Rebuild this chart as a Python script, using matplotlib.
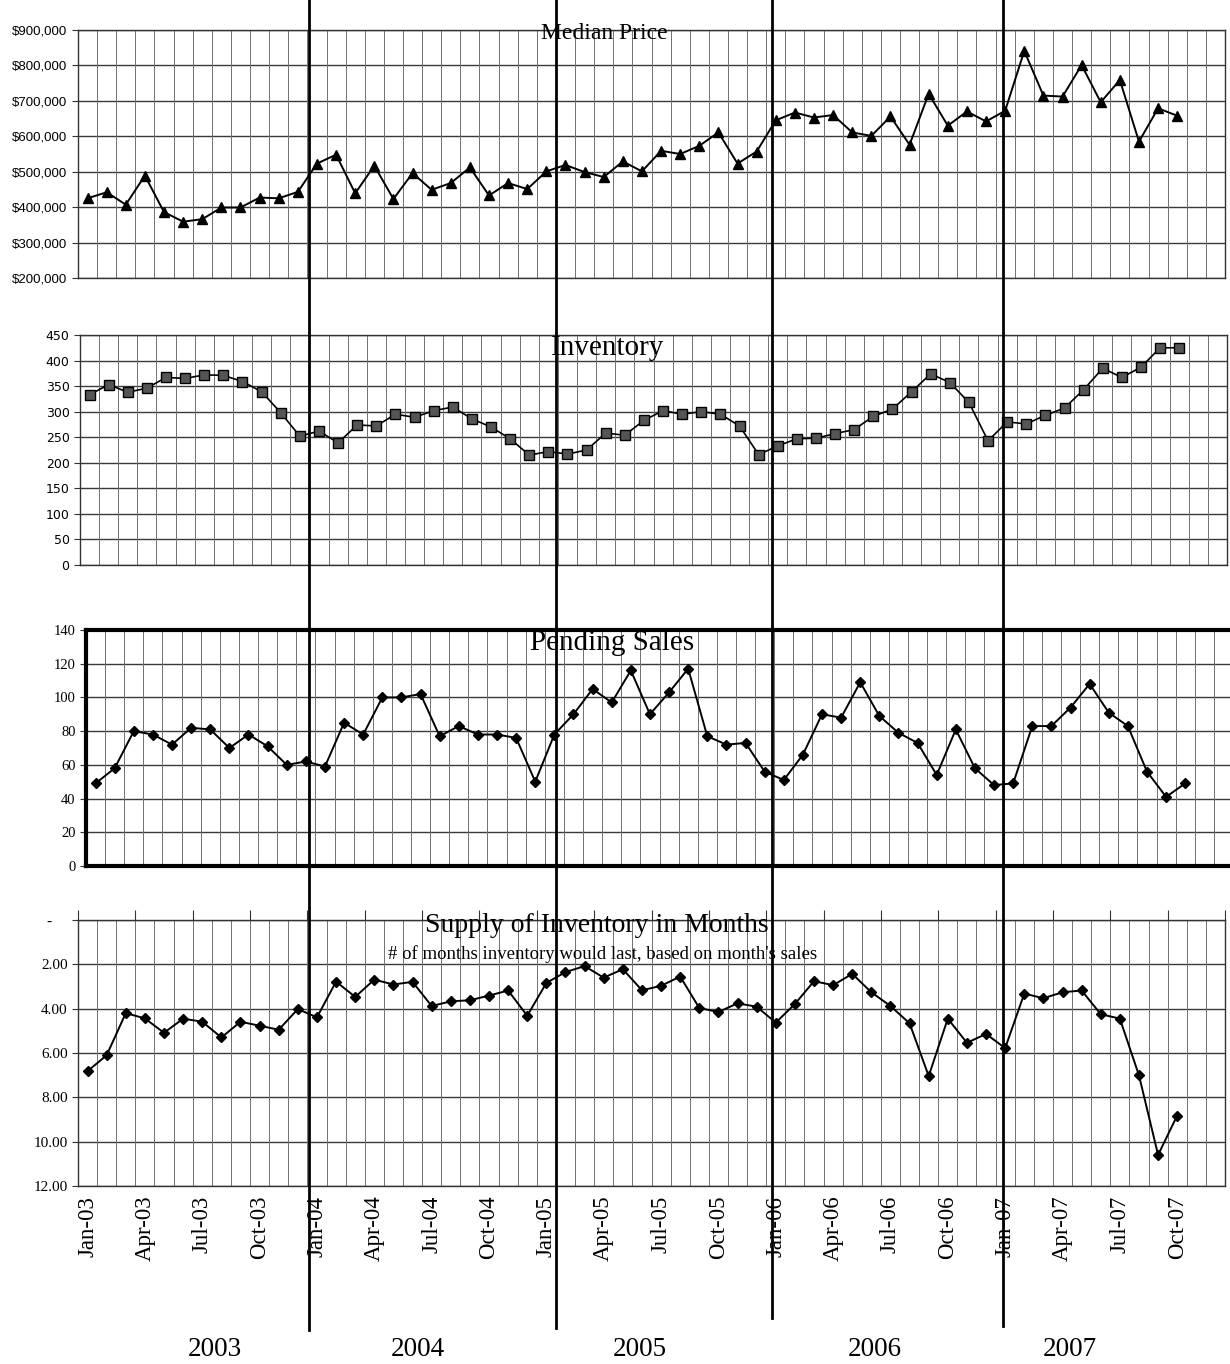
import numpy as np
import matplotlib.pyplot as plt
from matplotlib.lines import Line2D
from matplotlib.transforms import blended_transform_factory

# monthly values, Jan-03 .. Oct-07
median_price = [425, 442, 407, 489, 386, 359, 366, 399, 399, 427, 425, 443,
                523, 548, 439, 517, 423, 496, 449, 468, 512, 433, 468, 451,
                501, 519, 499, 485, 529, 501, 559, 550, 573, 611, 523, 557,
                645, 667, 653, 660, 611, 601, 656, 576, 720, 630, 670, 642,
                672, 841, 715, 712, 801, 696, 759, 585, 679, 658]
median_price = [v * 1000 for v in median_price]

inventory = [333, 353, 338, 346, 367, 365, 372, 371, 359, 339, 298, 252,
             262, 239, 274, 272, 295, 289, 302, 309, 286, 270, 247, 215,
             222, 217, 225, 258, 254, 283, 302, 295, 300, 295, 272, 216,
             233, 247, 248, 257, 265, 291, 305, 339, 374, 357, 318, 243,
             280, 276, 293, 307, 343, 385, 367, 387, 425, 425]

pending_sales = [49, 58, 80, 78, 72, 82, 81, 70, 78, 71, 60, 62,
                 59, 85, 78, 100, 100, 102, 77, 83, 78, 78, 76, 50,
                 78, 90, 105, 97, 116, 90, 103, 117, 77, 72, 73, 56,
                 51, 66, 90, 88, 109, 89, 79, 73, 54, 81, 58, 48,
                 49, 83, 83, 94, 108, 91, 83, 56, 41, 49]

supply_months = [6.82, 6.10, 4.20, 4.44, 5.09, 4.45, 4.59, 5.30, 4.59, 4.77, 4.95, 4.02,
                 4.39, 2.78, 3.47, 2.69, 2.91, 2.79, 3.88, 3.67, 3.62, 3.41, 3.18, 4.32,
                 2.84, 2.35, 2.08, 2.60, 2.22, 3.17, 2.97, 2.55, 3.97, 4.15, 3.76, 3.91,
                 4.63, 3.79, 2.76, 2.94, 2.43, 3.26, 3.88, 4.66, 7.04, 4.45, 5.54, 5.14,
                 5.78, 3.32, 3.53, 3.26, 3.18, 4.25, 4.45, 7.01, 10.6, 8.82]

tick_labels = ['Jan-03', 'Apr-03', 'Jul-03', 'Oct-03',
               'Jan-04', 'Apr-04', 'Jul-04', 'Oct-04',
               'Jan-05', 'Apr-05', 'Jul-05', 'Oct-05',
               'Jan-06', 'Apr-06', 'Jul-06', 'Oct-06',
               'Jan-07', 'Apr-07', 'Jul-07', 'Oct-07']
years = ['2003', '2004', '2005', '2006', '2007']

n_cat = 60  # axis runs to Dec-07
x = np.arange(len(median_price))
SERIF = 'Liberation Serif'

fig = plt.figure(figsize=(12.3, 13.64), dpi=100)
W, H = 1230.0, 1364.0


def panel(left, top, bottom):
    ax = fig.add_axes([left / W, 1 - bottom / H, 1147 / W, (bottom - top) / H])
    ax.set_xlim(-0.5, n_cat - 0.5)
    for b in np.arange(-0.5, n_cat, 1):
        ax.axvline(b, color='#707070', lw=0.7, zorder=1)
    ax.yaxis.grid(True, color='#3a3a3a', lw=1.0, zorder=1)
    ax.set_axisbelow(True)
    ax.set_xticks([])
    ax.tick_params(axis='y', length=4, width=0.8, color='#333')
    for s in ax.spines.values():
        s.set_color('#333')
        s.set_linewidth(1.0)
    return ax


# Median price
ax1 = panel(78, 30, 278)
ax1.plot(x, median_price, color='black', lw=1.4, marker='^', ms=7, zorder=3)
ax1.set_ylim(200000, 900000)
ax1.set_yticks(range(200000, 900001, 100000))
ax1.set_yticklabels(['${:,}'.format(v) for v in range(200000, 900001, 100000)],
                    fontsize=9.5, family='Liberation Sans')
ax1.text(0.459, 1.03, 'Median Price', transform=ax1.transAxes, ha='center', va='top',
         fontsize=17, family=SERIF)

# Inventory
ax2 = panel(80, 335, 565)
ax2.plot(x, inventory, color='black', lw=1.2, marker='s', ms=6.5,
         markerfacecolor='#555', markeredgecolor='black', zorder=3)
ax2.set_ylim(0, 450)
ax2.set_yticks(range(0, 451, 50))
ax2.set_yticklabels([str(v) for v in range(0, 451, 50)], fontsize=9, family='DejaVu Sans')
ax2.text(0.46, 1.0, 'Inventory', transform=ax2.transAxes, ha='center', va='top',
         fontsize=21, family=SERIF)

# Pending sales
ax3 = panel(86, 630, 866)
ax3.plot(x, pending_sales, color='black', lw=1.4, marker='D', ms=5.5, zorder=3)
ax3.set_ylim(0, 140)
ax3.set_yticks(range(0, 141, 20))
ax3.set_yticklabels([str(v) for v in range(0, 141, 20)], fontsize=10.5, family=SERIF)
for s in ax3.spines.values():
    s.set_color('black')
    s.set_linewidth(3)
ax3.text(0.459, 1.0, 'Pending Sales', transform=ax3.transAxes, ha='center', va='top',
         fontsize=21, family=SERIF)

# Supply of inventory (inverted)
ax4 = panel(78, 920, 1186)
ax4.plot(x, supply_months, color='black', lw=1.4, marker='D', ms=5.5, zorder=3)
ax4.set_ylim(12, 0)
ax4.set_yticks(range(0, 13, 2))
ax4.set_yticklabels(['-    '] + ['{:.2f}'.format(v) for v in range(2, 13, 2)],
                    fontsize=11, family=SERIF)
ax4.set_xticks(range(0, len(median_price), 3))
ax4.set_xticklabels(tick_labels, rotation=90, fontsize=16.5, family=SERIF)
ax4.tick_params(axis='x', length=0, pad=7)
ax4.set_xticks(np.arange(-0.5, n_cat, 3), minor=True)
ax4.tick_params(axis='x', which='minor', top=True, bottom=False, direction='out',
                length=7, width=0.8, color='#333')
ax4.text(0.452, 1.025, 'Supply of Inventory in Months', transform=ax4.transAxes,
         ha='center', va='top', fontsize=20, family=SERIF)
ax4.text(0.457, 0.905, "# of months inventory would last, based on month's sales",
         transform=ax4.transAxes, ha='center', va='top', fontsize=13.5, family=SERIF)

# hand-drawn year separators
trans = blended_transform_factory(ax1.transData, fig.transFigure)
for xv, yb in zip([11.6, 24.5, 35.8, 47.9], [1330, 1328, 1318, 1326]):
    fig.add_artist(Line2D([xv, xv], [1 - yb / H, 1.0], transform=trans,
                          color='black', lw=2))

for lab, xp in zip(years, [215, 418, 640, 875, 1070]):
    fig.text(xp / W, 1 - 1349 / H, lab, ha='center', va='center', fontsize=19.5, family=SERIF)

fig.savefig('out.png', dpi=100)
